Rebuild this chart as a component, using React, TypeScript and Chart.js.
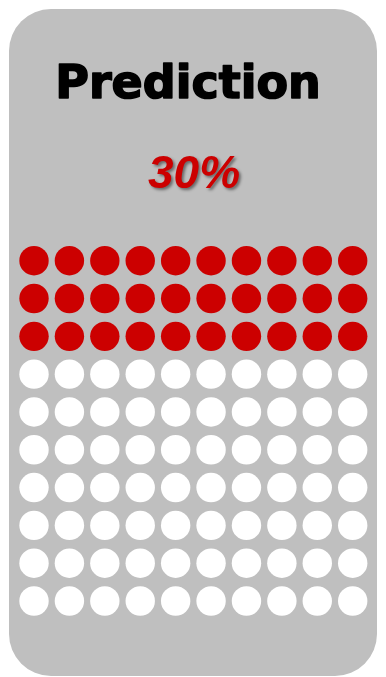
import React, { useEffect, useRef } from "react";
import { Chart, registerables } from "chart.js";

Chart.register(...registerables);

const titleText = "Prediction";
const valueLabel = "30%";
const percentValue = [30];
const gridRows = [1, 2, 3, 4, 5, 6, 7, 8, 9, 10];
const gridCols = [1, 2, 3, 4, 5, 6, 7, 8, 9, 10];
const filledColor = "#CC0000";
const emptyColor = "#FFFFFF";
const panelColor = "#BFBFBF";

const panelPlugin = {
  id: "panel",
  beforeDraw(chart: any) {
    const ctx = chart.ctx;
    const x = 9, y = 9, w = 368, h = 667, r = 42;
    ctx.save();
    ctx.fillStyle = panelColor;
    ctx.beginPath();
    ctx.moveTo(x + r, y);
    ctx.lineTo(x + w - r, y);
    ctx.arcTo(x + w, y, x + w, y + r, r);
    ctx.lineTo(x + w, y + h - r);
    ctx.arcTo(x + w, y + h, x + w - r, y + h, r);
    ctx.lineTo(x + r, y + h);
    ctx.arcTo(x, y + h, x, y + h - r, r);
    ctx.lineTo(x, y + r);
    ctx.arcTo(x, y, x + r, y, r);
    ctx.closePath();
    ctx.fill();
    ctx.restore();
  },
  afterDraw(chart: any) {
    const ctx = chart.ctx;
    ctx.save();
    ctx.textAlign = "center";
    ctx.textBaseline = "alphabetic";
    ctx.fillStyle = "#000000";
    ctx.strokeStyle = "#000000";
    ctx.lineWidth = 1.6;
    ctx.lineJoin = "round";
    ctx.font = "bold 46px 'DejaVu Sans'";
    ctx.fillText(titleText, 188, 98);
    ctx.strokeText(titleText, 188, 98);
    ctx.shadowColor = "rgba(0,0,0,0.45)";
    ctx.shadowOffsetX = 2;
    ctx.shadowOffsetY = 2;
    ctx.shadowBlur = 3;
    ctx.fillStyle = filledColor;
    ctx.font = "italic bold 46px 'Liberation Sans'";
    ctx.fillText(valueLabel, 194, 188);
    ctx.restore();
  },
};

export default function App() {
  const ref = useRef<HTMLCanvasElement | null>(null);
  useEffect(() => {
    document.body.style.margin = "0";
    if (!ref.current) return;
    const filled = Math.round(percentValue[0]);
    const points: { x: number; y: number }[] = [];
    const colors: string[] = [];
    let idx = 0;
    for (const r of gridRows) {
      for (const c of gridCols) {
        points.push({ x: c, y: r });
        colors.push(idx < filled ? filledColor : emptyColor);
        idx++;
      }
    }
    const chart = new Chart(ref.current, {
      type: "scatter",
      data: {
        datasets: [
          {
            data: points,
            backgroundColor: colors,
            borderColor: colors,
            borderWidth: 0,
            pointRadius: 14.7,
            pointHoverRadius: 14.7,
          },
        ],
      },
      options: {
        responsive: false,
        animation: false,
        events: [],
        layout: { padding: { left: 16.3, right: 15.6, top: 241.8, bottom: 57.1 } },
        plugins: {
          legend: { display: false },
          tooltip: { enabled: false },
          title: { display: false },
        },
        scales: {
          x: { type: "linear", min: 0.5, max: 10.5, display: false },
          y: { type: "linear", min: 0.5, max: 10.5, reverse: true, display: false },
        },
      },
      plugins: [panelPlugin],
    });
    return () => chart.destroy();
  }, []);
  return <canvas ref={ref} width={386} height={677} style={{ display: "block" }} />;
}
